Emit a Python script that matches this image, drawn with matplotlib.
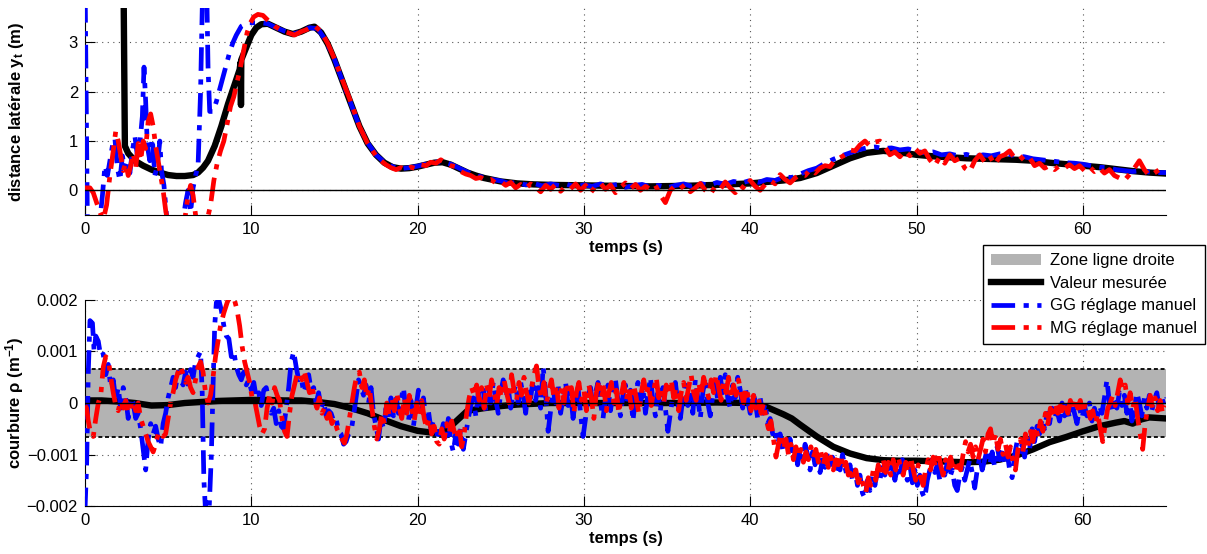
import numpy as np
import matplotlib
matplotlib.use('Agg')
import matplotlib.pyplot as plt
from matplotlib.patches import Patch
from matplotlib.lines import Line2D

plt.rcParams['font.family'] = ['Liberation Sans', 'DejaVu Sans']
plt.rcParams['font.size'] = 12
plt.rcParams['mathtext.fontset'] = 'custom'
plt.rcParams['mathtext.rm'] = 'Liberation Sans'
plt.rcParams['mathtext.bf'] = 'Liberation Sans:bold'
plt.rcParams['mathtext.it'] = 'Liberation Sans:italic'

# ---------------- distance laterale y_t (m) ----------------
# valeur mesuree
yt_mes_t = [2.30, 2.40, 2.6, 3.0, 3.5, 4.0, 4.5, 5.0, 5.5, 6.0, 6.5, 6.8, 7.1, 7.4, 7.8,
            8.2, 8.6, 9.0, 9.3, 9.36, 9.38, 9.40, 9.7, 10.0, 10.3, 10.6, 11.0, 11.5, 12.0, 12.5,
            13.0, 13.5, 13.8, 14.2, 14.6, 15.0, 15.5, 16.0, 16.5, 17.0, 17.5, 18.0, 18.5, 19.0, 19.5,
            20.0, 20.5, 21.0, 21.5, 22.0, 22.5, 23.0, 23.5, 24, 25, 26, 27, 28, 30, 32,
            34, 36, 38, 40, 41, 42, 43, 44, 45, 46, 47, 48, 49, 50, 51,
            52, 53, 54, 55, 56, 57, 58, 59, 60, 61, 62, 63, 64, 65]
yt_mes = [5.0, 0.9, 0.75, 0.6, 0.5, 0.42, 0.36, 0.31, 0.29, 0.29, 0.31, 0.36, 0.46, 0.6, 0.9,
          1.3, 1.75, 2.15, 2.45, 2.6, 1.73, 2.65, 2.9, 3.15, 3.3, 3.37, 3.38, 3.3, 3.22, 3.17,
          3.22, 3.3, 3.32, 3.2, 2.97, 2.65, 2.2, 1.75, 1.3, 0.95, 0.72, 0.56, 0.47, 0.44, 0.45,
          0.48, 0.52, 0.56, 0.57, 0.52, 0.44, 0.36, 0.3, 0.25, 0.18, 0.14, 0.12, 0.11, 0.1, 0.09,
          0.08, 0.09, 0.11, 0.14, 0.17, 0.2, 0.25, 0.35, 0.5, 0.65, 0.76, 0.8, 0.77, 0.72, 0.69,
          0.67, 0.65, 0.64, 0.63, 0.62, 0.6, 0.56, 0.53, 0.5, 0.47, 0.43, 0.39, 0.36, 0.34]

# GG reglage manuel
yt_gg_t = [0.0, 0.15, 0.5, 0.9, 1.05, 1.2, 1.35, 1.5, 1.65, 1.8, 1.95, 2.1, 2.25, 2.4, 2.55,
           2.7, 2.85, 3.0, 3.15, 3.3, 3.45, 3.55, 3.65, 3.75, 3.9, 4.05, 4.2, 4.35, 4.5, 4.6,
           4.75, 4.9, 5.1, 5.5, 5.9, 6.05, 6.2, 6.35, 6.5, 6.65, 6.8, 6.95, 7.1, 7.3, 7.4,
           7.5, 7.7, 7.9, 8.1, 8.3, 8.5, 8.7, 8.9, 9.1, 9.4, 9.8, 10.2, 10.6, 11.0]
yt_gg = [4.5, -0.8, -1.0, -0.6, -0.1, 0.5, 0.3, 0.6, 0.9, 1.05, 0.45, 0.2, 0.7, 0.45, 0.6,
         0.35, 0.8, 1.1, 0.7, 0.95, 1.5, 2.5, 1.8, 0.9, 0.6, 1.05, 0.3, 0.5, 1.0, 0.4,
         0.1, -0.5, -0.7, -0.8, -0.6, -0.25, 0.0, -0.45, 0.05, 0.3, 0.5, 2.0, 4.5, 4.5, 2.5,
         1.6, 1.6, 1.8, 2.05, 2.3, 2.55, 2.8, 3.0, 3.15, 3.33, 3.4, 3.4, 3.4, 3.38]
# suite, echantillons tous les 0.5 s a partir de 11.5 s
yt_gg_tail_t0 = 11.5
yt_gg_tail = [3.3, 3.23, 3.17, 3.22, 3.3, 3.28, 3.03, 2.66, 2.2, 1.75, 1.3, 0.96, 0.72, 0.57, 0.48,
              0.44, 0.46, 0.49, 0.53, 0.57, 0.58, 0.53, 0.45, 0.37, 0.3, 0.26, 0.22, 0.19, 0.14, 0.16,
              0.11, 0.14, 0.09, 0.13, 0.1, 0.12, 0.07, 0.11, 0.08, 0.13, 0.09, 0.12, 0.06, 0.1, 0.12,
              0.07, 0.1, 0.05, 0.1, 0.13, 0.08, 0.14, 0.1, 0.16, 0.12, 0.18, 0.15, 0.2, 0.16, 0.22,
              0.2, 0.27, 0.26, 0.33, 0.4, 0.45, 0.55, 0.63, 0.7, 0.76, 0.82, 0.86, 0.88, 0.85, 0.86,
              0.82, 0.84, 0.79, 0.76, 0.78, 0.72, 0.74, 0.7, 0.73, 0.68, 0.72, 0.7, 0.74, 0.73, 0.7,
              0.68, 0.64, 0.62, 0.6, 0.58, 0.56, 0.55, 0.53, 0.5, 0.47, 0.46, 0.42, 0.4, 0.38, 0.4,
              0.37, 0.36, 0.36]

# MG reglage manuel
yt_mg_t = [0.0, 0.3, 0.5, 0.7, 0.9, 1.1, 1.3, 1.5, 1.7, 1.85, 2.0, 2.15, 2.3, 2.45, 2.6,
           2.75, 2.9, 3.05, 3.2, 3.35, 3.5, 3.65, 3.8, 3.95, 4.1, 4.25, 4.4, 4.55, 4.7, 4.85,
           5.0, 5.5, 6.0, 6.2, 6.35, 6.5, 6.65, 7.0, 7.35, 7.55, 7.75, 7.95, 8.15, 8.35, 8.55,
           8.75, 8.95, 9.15, 9.35, 9.55, 9.75, 9.95, 10.15, 10.4, 10.7, 11.0, 11.4, 11.8, 12.2, 12.6,
           13.0, 13.4, 13.8, 14.2, 14.6, 15.0, 15.5, 16.0, 16.5, 17.0, 17.5]
yt_mg = [0.05, 0.05, -0.05, -0.25, -0.45, -0.6, -0.3, 0.3, 0.8, 1.2, 1.0, 0.7, 0.4, 0.55, 0.3,
         0.5, 0.75, 0.45, 0.95, 0.6, 1.0, 0.85, 1.4, 1.55, 1.3, 0.9, 0.6, 0.3, 0.0, -0.4,
         -0.7, -0.9, -0.6, -0.1, 0.1, -0.1, -0.5, -0.9, -0.6, -0.3, 0.2, 0.55, 0.8, 1.0, 1.35,
         1.7, 1.9, 2.2, 2.5, 2.85, 3.2, 3.4, 3.52, 3.57, 3.55, 3.45, 3.33, 3.25, 3.2, 3.15,
         3.22, 3.27, 3.34, 3.22, 2.98, 2.67, 2.22, 1.78, 1.3, 0.95, 0.7]
# suite, echantillons tous les 0.3 s a partir de 17.8 s
yt_mg_tail_t0 = 17.8
yt_mg_tail = [0.6, 0.52, 0.46, 0.42, 0.46, 0.41, 0.47, 0.44, 0.52, 0.5,
              0.57, 0.55, 0.62, 0.55, 0.5, 0.48, 0.38, 0.33, 0.3, 0.24,
              0.26, 0.2, 0.22, 0.15, 0.18, 0.1, 0.16, 0.05, 0.12, 0.04,
              0.13, 0.06, -0.03, 0.1, 0.02, 0.12, -0.02, 0.08, 0.03, 0.13,
              0.0, 0.1, -0.05, 0.08, 0.14, 0.02, 0.11, -0.05, 0.06, 0.15,
              0.03, 0.12, 0.0, 0.08, 0.02, 0.1, -0.1, -0.25, 0.0, 0.1,
              0.04, 0.12, -0.03, 0.05, 0.14, 0.0, -0.08, 0.08, 0.02, 0.17,
              0.05, -0.05, 0.1, 0.02, 0.2, 0.08, 0.0, 0.12, 0.2, 0.13,
              0.32, 0.22, 0.15, 0.25, 0.32, 0.3, 0.42, 0.35, 0.45, 0.5,
              0.48, 0.62, 0.66, 0.72, 0.82, 0.8, 0.92, 1.0, 0.9, 0.98,
              1.0, 0.88, 0.72, 0.78, 0.68, 0.8, 0.7, 0.85, 0.75, 0.8,
              0.62, 0.5, 0.68, 0.55, 0.72, 0.6, 0.65, 0.45, 0.38, 0.6,
              0.72, 0.58, 0.7, 0.52, 0.68, 0.72, 0.8, 0.65, 0.7, 0.6,
              0.66, 0.5, 0.55, 0.45, 0.5, 0.42, 0.5, 0.45, 0.52, 0.44,
              0.5, 0.4, 0.48, 0.38, 0.45, 0.35, 0.42, 0.3, 0.25, 0.2,
              0.32, 0.45, 0.6, 0.42, 0.3, 0.35, 0.42, 0.38]

# ---------------- courbure rho (x 1e-3 m^-1) ----------------
rho_mes_t = [0, 1, 2, 3, 4, 5, 6, 7, 8, 9, 10, 11, 12, 13, 14, 15, 16, 17, 18, 19, 20, 21,
             21.5, 22, 22.5, 23, 24, 25, 26, 28, 30, 32, 34, 36, 38, 40, 41, 42, 42.5, 43,
             44, 45, 46, 47, 48, 49, 50, 51, 52, 53, 54, 55, 56, 57, 58, 59, 60, 61, 62,
             62.5, 63, 63.5, 64, 65]
rho_mes = [0.05, 0.05, 0.03, 0.0, -0.05, -0.04, 0.0, 0.02, 0.04, 0.05, 0.06, 0.06, 0.05, 0.05,
           0.02, -0.02, -0.1, -0.2, -0.33, -0.45, -0.54, -0.58, -0.57, -0.45, -0.3, -0.15, -0.1,
           -0.06, -0.03, 0.0, 0.0, 0.0, 0.0, 0.0, 0.01, 0.0, -0.08, -0.22, -0.3, -0.42, -0.65,
           -0.85, -0.98, -1.07, -1.11, -1.12, -1.12, -1.13, -1.14, -1.15, -1.14, -1.1, -1.02,
           -0.9, -0.76, -0.66, -0.55, -0.45, -0.38, -0.35, -0.4, -0.32, -0.28, -0.3]

rho_gg_t = [0.0, 0.1, 0.2, 0.3, 0.45, 0.55, 0.65,
            0.8, 0.95, 1.1, 1.25, 1.4, 1.55, 1.7, 1.85, 2.0, 2.15, 2.3, 2.45, 2.6, 2.75,
            2.9, 3.05, 3.2, 3.35, 3.5, 3.65, 3.8, 3.95, 4.1, 4.25, 4.4, 4.55, 4.7, 4.85,
            5.0, 5.15, 5.3, 5.45, 5.6, 5.75, 5.9, 6.05, 6.2, 6.35, 6.5, 6.65, 6.8, 6.95,
            7.05, 7.15, 7.25, 7.45, 7.6, 7.7, 7.8, 7.9, 8.05]
rho_gg = [-2.1, -1.2, 0.6, 1.6, 1.55, 1.0, 1.3,
          1.2, 0.9, 0.95, 0.55, 0.75, 0.3, 0.45, 0.05, 0.3, -0.1, 0.3, 0.1, -0.3, 0.1,
          0.0, -0.3, -0.2, -0.5, -0.9, -1.3, -0.7, -0.4, -0.6, -0.45, -0.7, -0.85, -0.4, -0.2,
          0.1, 0.3, 0.5, 0.3, 0.6, 0.45, 0.35, 0.6, 0.3, 0.65, 0.5, 0.8, 0.9, 1.0,
          0.2, -1.5, -2.1, -2.2, -1.0, 0.3, 1.5, 1.95, 2.0]
# suite, echantillons tous les 0.15 s a partir de 8.2 s
rho_gg_tail_t0 = 8.2
rho_gg_tail = [1.8, 1.5, 1.3, 1.25, 0.9, 1.0, 0.7, 0.55, 0.45, 0.6, 0.35, 0.45, 0.25, 0.4, 0.1,
               0.2, -0.05, 0.25, 0.3, 0.05, -0.2, -0.1, -0.4, -0.15, -0.45, -0.5, -0.1, 0.3, 0.8, 1.0,
               0.7, 0.45, 0.5, 0.2, 0.35, 0.55, 0.25, 0.3, 0.0, 0.2, -0.1, 0.05, -0.25, -0.15, -0.2,
               -0.35, -0.3, -0.55, -0.6, -0.8, -0.75, -0.6, -0.55, -0.25, 0.1, 0.45, 0.3, 0.15, 0.35, 0.0,
               0.3, -0.2, -0.45, -0.7, -0.3, -0.5, -0.1, -0.35, 0.1, -0.25, 0.15, -0.2, 0.05, 0.3, -0.15,
               -0.35, 0.05, -0.45, -0.1, 0.25, -0.2, 0.1, -0.3, -0.15, -0.5, -0.35, -0.7, -0.55, -0.6, -0.4,
               -0.65, -0.3, -0.75, -0.95, -0.6, -0.8, -0.5, -0.9, -0.6, -0.3, -0.05, 0.1, -0.25, 0.2, -0.1,
               0.25, -0.15, 0.3, 0.0, 0.4, 0.05, -0.2, 0.2, 0.45, 0.1, 0.3, -0.1, 0.2, 0.35, 0.0,
               0.4, 0.15, -0.2, 0.3, 0.1, 0.45, 0.05, 0.3, -0.1, 0.7, 0.2, -0.55, -0.15, 0.25, 0.0,
               0.35, -0.2, 0.1, 0.4, -0.05, 0.2, -0.3, 0.1, 0.3, -0.2, -0.65, -0.3, 0.15, 0.3, -0.1,
               0.2, 0.4, 0.0, -0.3, 0.1, 0.35, -0.15, 0.2, 0.45, 0.05, -0.25, 0.15, 0.35, -0.05, 0.25,
               -0.35, 0.1, 0.4, 0.0, 0.3, -0.2, 0.15, 0.5, 0.05, -0.25, 0.2, -0.15, 0.3, -0.1, -0.55,
               -0.2, 0.15, 0.4, 0.0, -0.3, 0.1, 0.35, -0.05, 0.25, -0.2, 0.45, 0.1, -0.3, 0.2, 0.5,
               0.0, -0.25, 0.15, 0.4, 0.05, 0.5, 0.2, 0.55, 0.1, -0.1, 0.35, 0.1, 0.5, 0.25, -0.1,
               0.3, 0.05, -0.2, 0.2, 0.05, -0.3, 0.1, -0.2, 0.0, -0.4, -0.3, -0.6, -0.5, -0.8, -0.6,
               -0.9, -0.75, -0.95, -0.7, -1.05, -0.85, -1.2, -0.9, -1.1, -0.8, -1.0, -1.3, -0.95, -1.2, -1.0,
               -1.35, -1.1, -1.25, -0.95, -1.2, -1.05, -1.35, -1.15, -1.3, -1.0, -1.25, -1.45, -1.2, -1.5, -1.3,
               -1.6, -1.4, -1.75, -1.85, -1.5, -1.7, -1.4, -1.6, -1.3, -1.5, -1.2, -1.4, -1.1, -1.35, -1.2,
               -1.5, -1.25, -1.45, -1.1, -1.35, -1.5, -1.2, -1.55, -1.3, -1.6, -1.4, -1.75, -1.85, -1.5, -1.3,
               -1.1, -1.35, -1.2, -1.5, -1.25, -1.4, -1.15, -1.45, -1.3, -1.6, -1.7, -1.4, -1.25, -1.5, -1.3,
               -1.1, -1.35, -1.65, -1.3, -1.05, -1.3, -1.1, -0.9, -1.2, -0.95, -1.25, -0.85, -1.1, -0.9, -1.2,
               -0.95, -1.3, -1.45, -1.0, -0.75, -1.0, -0.8, -1.05, -0.7, -0.9, -0.5, -0.75, -0.45, -0.6, -0.3,
               -0.5, -0.2, -0.4, -0.1, -0.3, -0.15, -0.35, 0.0, -0.25, -0.05, -0.3, 0.0, -0.2, -0.4, -0.1,
               -0.3, -0.05, -0.25, 0.0, -0.35, -0.1, -0.3, -0.05, -0.2, 0.1, 0.45, 0.0, -0.2, 0.1, -0.1,
               0.2, -0.05, 0.15, -0.2, 0.1, -0.35, -0.1, 0.2, 0.0, -0.25, 0.1, -0.1, 0.15, -0.15, 0.05,
               0.2, -0.1, 0.1, -0.05, 0.1]

rho_mg_t = [0.0, 0.1, 0.2,
            0.35, 0.5, 0.65, 0.8, 0.95, 1.1, 1.25, 1.4, 1.55, 1.7, 1.85, 2.0, 2.15, 2.3,
            2.45, 2.6, 2.75, 2.9, 3.05, 3.2, 3.35, 3.5, 3.65, 3.8, 3.95, 4.1, 4.25, 4.4,
            4.55, 4.7, 4.85, 5.0, 5.15, 5.3, 5.45, 5.6, 5.75, 5.9, 6.05, 6.2, 6.35, 6.5,
            6.65, 6.8, 6.95, 7.1, 7.25, 7.4, 7.55, 7.7, 7.85, 8.0, 8.15,
            8.35, 8.55, 8.75, 8.95]
rho_mg = [-0.05, -0.1, -0.35,
          -0.6, -0.65, -0.3, 0.0, 0.15, 0.7, 0.9, 0.85, 0.5, 0.2, -0.05, -0.15, 0.05, -0.1,
          0.05, -0.2, -0.05, 0.05, -0.15, 0.0, -0.3, -0.45, -0.6, -0.75, -0.85, -0.95, -0.8, -0.6,
          -0.55, -0.65, -0.6, -0.3, 0.0, 0.2, 0.45, 0.6, 0.72, 0.55, 0.4, 0.5, 0.3, 0.2,
          0.45, 0.7, 0.8, 0.6, 0.2, 0.0, 0.15, 0.5, 0.9, 1.2, 1.5,
          1.75, 1.95, 2.1, 2.05]
# suite, echantillons tous les 0.15 s a partir de 9.15 s
rho_mg_tail_t0 = 9.15
rho_mg_tail = [1.8, 1.5, 1.1, 0.8, 0.6, 0.4, 0.1, 0.05, -0.2, -0.45, -0.6, -0.5, -0.1, 0.15, 0.0,
               0.3, 0.15, 0.05, -0.3, -0.55, -0.65, -0.2, 0.15, 0.35, 0.55, 0.6, 0.45, 0.6, 0.4, 0.2,
               0.35, 0.05, -0.1, 0.1, -0.2, -0.1, -0.3, -0.2, -0.4, -0.3, -0.5, -0.6, -0.7, -0.78, -0.6,
               -0.3, 0.0, 0.3, 0.55, 0.6, 0.3, 0.45, 0.1, 0.3, -0.1, -0.45, -0.7, -0.5, -0.2, -0.4,
               0.0, -0.25, 0.1, -0.15, 0.2, -0.1, -0.3, 0.1, -0.2, 0.15, -0.1, -0.35, 0.0, -0.25, 0.05,
               -0.3, -0.5, -0.3, -0.6, -0.45, -0.75, -0.8, -0.5, -0.7, -0.4, -0.6, -0.35, -0.55, -0.7, -0.45,
               -0.85, -0.6, -0.2, 0.1, 0.3, 0.15, 0.35, 0.05, 0.3, -0.1, 0.35, 0.1, 0.45, 0.2, -0.05,
               0.3, 0.1, 0.45, 0.2, 0.0, 0.55, 0.25, 0.05, 0.4, 0.15, 0.5, 0.2, 0.0, 0.3, 0.55,
               0.72, 0.3, 0.1, 0.4, 0.0, 0.25, 0.45, 0.1, 0.35, -0.1, 0.3, 0.0, 0.4, 0.15, 0.3,
               -0.2, 0.2, 0.4, 0.05, 0.25, -0.15, 0.35, 0.1, -0.3, 0.2, 0.45, 0.1, 0.3, -0.15, 0.2,
               0.4, 0.0, 0.25, -0.2, 0.15, 0.4, 0.05, 0.3, -0.1, 0.35, 0.1, -0.2, 0.2, 0.45, 0.15,
               0.35, -0.05, 0.25, 0.5, 0.1, 0.3, 0.0, 0.35, 0.15, 0.45, 0.1, 0.3, -0.15, 0.2, 0.4,
               0.05, 0.3, 0.55, 0.2, 0.05, 0.4, 0.15, 0.5, 0.3, 0.1, 0.45, 0.2, 0.55, 0.3, 0.05,
               0.4, 0.2, 0.5, 0.1, 0.35, 0.15, 0.45, 0.2, 0.0, 0.3, 0.1, -0.15, 0.15, -0.1, 0.1,
               -0.2, 0.0, -0.3, -0.5, -0.35, -0.7, -1.05, -0.8, -0.6, -0.9, -0.7, -1.0, -0.8, -1.1, -0.85,
               -1.05, -0.9, -1.15, -0.95, -1.1, -0.85, -1.05, -0.9, -1.15, -0.95, -1.2, -1.0, -1.25, -1.05, -1.3,
               -1.1, -1.2, -1.0, -1.3, -1.15, -1.4, -1.25, -1.5, -1.3, -1.55, -1.4, -1.6, -1.75, -1.45, -1.6,
               -1.3, -1.5, -1.2, -1.4, -1.1, -1.35, -1.15, -1.4, -1.1, -1.3, -1.05, -1.25, -1.4, -1.15, -1.35,
               -1.05, -1.3, -1.5, -1.2, -1.45, -1.6, -1.3, -1.1, -1.3, -1.05, -1.25, -0.95, -1.2, -1.4, -1.1,
               -1.3, -1.05, -1.25, -1.35, -1.1, -1.3, -1.0, -0.75, -0.95, -0.8, -1.05, -0.85, -1.1, -0.9, -0.7,
               -0.95, -0.6, -0.5, -0.8, -0.6, -0.9, -0.7, -1.0, -0.8, -1.05, -0.85, -1.15, -1.3, -0.9, -0.7,
               -0.95, -0.6, -0.85, -0.55, -0.75, -0.45, -0.65, -0.35, -0.55, -0.2, -0.4, -0.1, -0.3, 0.0, -0.2,
               -0.05, -0.25, 0.0, -0.2, 0.05, -0.15, 0.1, -0.1, 0.05, -0.2, 0.0, -0.1, -0.3, -0.15, -0.4,
               -0.2, -0.5, -0.75, -0.4, -0.1, 0.0, 0.15, -0.05, 0.2, 0.45, 0.25, 0.35, 0.0, 0.2, -0.1,
               0.1, -0.3, -0.6, -0.9, -0.4, -0.1, 0.15, -0.1, 0.1, -0.15, 0.05, -0.2, -0.05]

zone_droite = 0.66  # x 1e-3 m^-1

t_max = 65
blue = '#0000ff'
red = '#ff0000'
gray = '#b3b3b3'
dashdot = (5.0, 1.8, 1.1, 1.8)
lw_c = 3.4
lw_k = 4.6


def with_tail(head_t, head_v, t0, tail_v, step):
    t = np.concatenate([head_t, t0 + step * np.arange(len(tail_v))])
    v = np.concatenate([head_v, tail_v])
    return t, v


gg_t, gg_y = with_tail(yt_gg_t, yt_gg, yt_gg_tail_t0, yt_gg_tail, 0.5)
mg_t, mg_y = with_tail(yt_mg_t, yt_mg, yt_mg_tail_t0, yt_mg_tail, 0.3)
ggr_t, ggr_v = with_tail(rho_gg_t, rho_gg, rho_gg_tail_t0, rho_gg_tail, 0.15)
mgr_t, mgr_v = with_tail(rho_mg_t, rho_mg, rho_mg_tail_t0, rho_mg_tail, 0.15)

fig = plt.figure(figsize=(12.07, 5.54), dpi=100)
ax1 = fig.add_axes([0.0704, 0.612, 0.8956, 0.3736])
ax2 = fig.add_axes([0.0704, 0.0866, 0.8956, 0.3719])

# --- haut ---
ax1.plot(yt_mes_t, yt_mes, color='k', lw=lw_k, zorder=2)
ax1.plot(gg_t, gg_y, color=blue, lw=lw_c, dashes=dashdot, zorder=3)
ax1.plot(mg_t, mg_y, color=red, lw=lw_c, dashes=dashdot, zorder=4)
ax1.axhline(0, color='k', lw=1.0, zorder=5)
ax1.set_xlim(0, t_max)
ax1.set_ylim(-0.5, 3.7)
ax1.set_yticks([0, 1, 2, 3])
ax1.set_xlabel('temps (s)', fontweight='bold')
ax1.set_ylabel(r'distance latérale y$_{\mathbf{t}}$ (m)', fontweight='bold')

# --- bas ---
ax2.fill_between([0, t_max], -zone_droite * 1e-3, zone_droite * 1e-3, color=gray, lw=0, zorder=1)
for s in (-1, 1):
    ax2.axhline(s * zone_droite * 1e-3, color='k', lw=1.3, ls=(0, (2.2, 1.5)), zorder=1.5)
ax2.plot(rho_mes_t, np.array(rho_mes) * 1e-3, color='k', lw=lw_k, zorder=2)
ax2.plot(ggr_t, ggr_v * 1e-3, color=blue, lw=lw_c, dashes=dashdot, zorder=3)
ax2.plot(mgr_t, mgr_v * 1e-3, color=red, lw=lw_c, dashes=dashdot, zorder=4)
ax2.axhline(0, color='k', lw=1.0, zorder=5)
ax2.set_xlim(0, t_max)
ax2.set_ylim(-0.002, 0.002)
ax2.set_yticks([-0.002, -0.001, 0, 0.001, 0.002])
ax2.set_yticklabels(['\u22120.002', '\u22120.001', '0', '0.001', '0.002'])
ax2.set_xlabel('temps (s)', fontweight='bold')
ax2.set_ylabel(r'courbure ρ (m$^{\mathbf{-1}}$)', fontweight='bold')

for ax in (ax1, ax2):
    ax.set_xticks([0, 10, 20, 30, 40, 50, 60])
    ax.set_axisbelow(True)
    ax.grid(True, ls=(0, (1, 4)), color='#555555', lw=0.8)
    ax.spines['top'].set_visible(False)
    ax.spines['right'].set_visible(False)
    ax.tick_params(direction='in', length=7, width=0.8, labelsize=12, pad=5)
    ax.yaxis.set_label_coords(-0.055, 0.5)
    ax.xaxis.labelpad = 2

handles = [Patch(facecolor=gray, edgecolor='none'),
           Line2D([], [], color='k', lw=lw_k),
           Line2D([], [], color=blue, lw=lw_c, dashes=dashdot),
           Line2D([], [], color=red, lw=lw_c, dashes=dashdot)]
labels = ['Zone ligne droite', 'Valeur mesurée', 'GG réglage manuel', 'MG réglage manuel']
leg = fig.legend(handles, labels, loc='upper right', bbox_to_anchor=(1205 / 1207, 1 - 245 / 554),
                 frameon=True, fancybox=False, edgecolor='k', framealpha=1, handlelength=3.0,
                 borderaxespad=0, labelspacing=0.45, handletextpad=0.5, borderpad=0.5)
leg.get_frame().set_linewidth(1.0)

fig.savefig('out.png', dpi=100)
